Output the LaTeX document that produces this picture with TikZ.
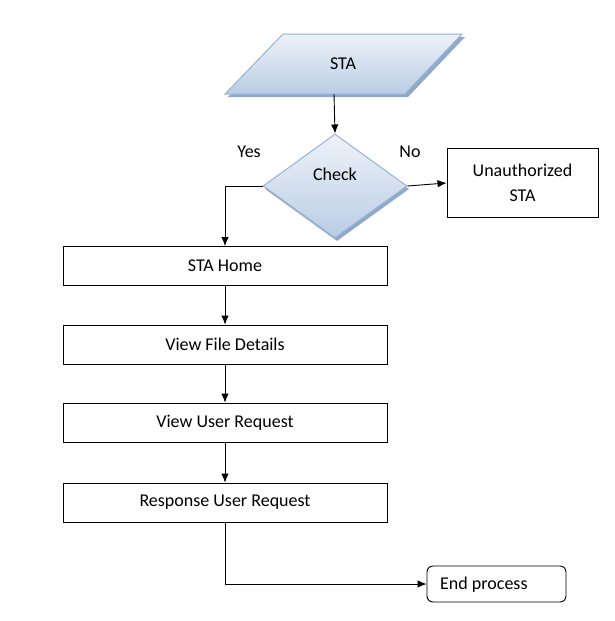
\documentclass[tikz,border=0pt]{standalone}
\usepackage{fontspec}
\setmainfont{Carlito}
\usetikzlibrary{shapes.geometric,arrows.meta,shadows}
\definecolor{bord}{HTML}{95B3D7}
\definecolor{ftop}{HTML}{EEF2F9}
\definecolor{fbot}{HTML}{B9CDE5}
\tikzset{
  proc/.style={draw=black, line width=0.9pt, minimum width=324pt, minimum height=39pt, inner sep=0pt, font=\fontsize{18}{21}\selectfont},
  lbl/.style={inner sep=0pt, font=\fontsize{18}{21}\selectfont},
  conn/.style={line width=0.9pt, -{Latex[length=9pt,width=7.5pt]}},
  fancy/.style={draw=bord, line width=1pt, top color=ftop, bottom color=fbot},
}
\begin{document}
\begin{tikzpicture}[x=1pt,y=-1pt]
\useasboundingbox (0,0) rectangle (615,621);
% STA parallelogram with shadow
\fill[bord!80!gray] (286,37) -- (465,37) -- (408,97) -- (228,97) -- cycle;
\path[fancy] (283,34) -- (462,34) -- (405,94) -- (225,94) -- cycle;
\node[lbl] (sta) at (343,64) {STA};
\coordinate (staB) at (334,94);
% decision
\node[diamond, fill=bord!80!gray, minimum width=144pt, minimum height=104pt, inner sep=0pt] at (337,189) {};
\node[diamond, fancy, minimum width=144pt, minimum height=104pt, inner sep=0pt] (chk) at (335,186) {};
\node[lbl] (chkt) at (335,174) {Check};
\node[lbl] (yes) at (249,152) {Yes};
\node[lbl] (no) at (410,152) {No};
% unauthorized
\node[draw=black, line width=0.9pt, minimum width=151pt, minimum height=69pt, inner sep=0pt, align=center, font=\fontsize{18}{25}\selectfont] (un) at (522.5,183) {Unauthorized\\STA};
% process boxes
\node[proc] (home) at (225,266) {STA Home};
\node[proc] (file) at (225,344.5) {View File Details};
\node[proc] (view) at (225,422.5) {View User Request};
\node[proc] (resp) at (225,502.5) {Response User Request};
\node[draw=black, line width=0.9pt, rounded corners=6pt, minimum width=139pt, minimum height=36pt, inner sep=0pt, font=\fontsize{18}{21}\selectfont] (end) at (496.5,584) {};
\node[lbl, anchor=west] (endt) at (440,585) {End process};
% connectors
\draw[conn] (staB) -- (chk.north);
\draw[conn] (chk.east) -- (un.west);
\draw[conn] (chk.west) -| (home.north);
\draw[conn] (home) -- (file);
\draw[conn] (file) -- (view);
\draw[conn] (view) -- (resp);
\draw[conn] (resp.south) |- (end.west);
\end{tikzpicture}
\end{document}
